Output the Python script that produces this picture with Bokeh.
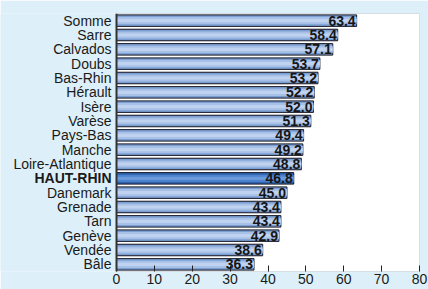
from bokeh.plotting import figure
from bokeh.models import (ColumnDataSource, FactorRange, Range1d, LabelSet, FixedTicker,
                          BoxAnnotation, Span)
from bokeh.core.properties import value
from bokeh.embed import file_html
from bokeh.resources import INLINE

categories = ["Somme", "Sarre", "Calvados", "Doubs", "Bas-Rhin", "Hérault", "Isère",
              "Varèse", "Pays-Bas", "Manche", "Loire-Atlantique", "HAUT-RHIN",
              "Danemark", "Grenade", "Tarn", "Genève", "Vendée", "Bâle"]
values = [63.4, 58.4, 57.1, 53.7, 53.2, 52.2, 52.0, 51.3, 49.4, 49.2, 48.8, 46.8,
          45.0, 43.4, 43.4, 42.9, 38.6, 36.3]
value_labels = ["63.4", "58.4", "57.1", "53.7", "53.2", "52.2", "52.0", "51.3", "49.4",
                "49.2", "48.8", "46.8", "45.0", "43.4", "43.4", "42.9", "38.6", "36.3"]
highlight = "HAUT-RHIN"
x_ticks = [0, 10, 20, 30, 40, 50, 60, 70, 80]
x_min, x_max = 0, 80

BG = "#ddf0f9"
base = ["#2d62ae" if c == highlight else "#7c9fd3" for c in categories]
mid = ["#4c82cc" if c == highlight else "#a6c0e7" for c in categories]
light = ["#6a9ad9" if c == highlight else "#bfd2ef" for c in categories]

src = ColumnDataSource(dict(cat=categories, val=values, lab=value_labels,
                            base=base, mid=mid, light=light,
                            zero=[0] * len(values)))
normal_cats = [c for c in categories if c != highlight]
src_normal = ColumnDataSource(dict(cat=normal_cats, zero=[0] * len(normal_cats)))
src_bold = ColumnDataSource(dict(cat=[highlight], zero=[0]))

W, H = 428, 289
LEFT_PAD, RIGHT_PAD = 116, 9
frame_w = W - RIGHT_PAD
# extend the range to the left so the category names sit inside the frame
x_start = x_min - (x_max - x_min) * LEFT_PAD / (frame_w - LEFT_PAD)

factors = list(reversed(categories))
p = figure(width=W, height=H, output_backend="svg", toolbar_location=None,
           y_range=FactorRange(factors=factors, range_padding=0),
           x_range=Range1d(x_start, x_max))
p.min_border_left = 0
p.min_border_right = RIGHT_PAD
p.min_border_top = 13
p.min_border_bottom = 18
p.border_fill_color = BG
p.background_fill_color = BG
p.outline_line_color = None
p.grid.visible = False
p.yaxis.visible = False

p.add_layout(BoxAnnotation(left=x_min, right=x_max, fill_color="white", fill_alpha=1,
                           line_color="#555555", line_width=1, level="underlay"))

# shadow
p.hbar(y="cat", left="zero", right="val", height=0.86, source=src,
       fill_color="#9a9a9a", fill_alpha=0.5, line_color=None)
p.hbar(y="cat", left="zero", right="val", height=0.8, source=src,
       fill_color="base", line_color="#1c1c28", line_width=1)
p.hbar(y="cat", left="zero", right="val", height=0.5, source=src,
       fill_color="mid", line_color=None)
p.hbar(y="cat", left="zero", right="val", height=0.22, source=src,
       fill_color="light", line_color=None)

p.add_layout(Span(location=x_min, dimension="height", line_color="#333333", line_width=2))

vals = LabelSet(x="val", y="cat", text="lab", source=src, x_offset=-1,
                text_align="right", text_baseline="middle",
                text_font=value("Liberation Sans"),
                text_font_size=value("14px"), text_font_style=value("bold"),
                text_color=value("#161616"))
p.add_layout(vals)

for s, st in ((src_normal, "normal"), (src_bold, "bold")):
    p.add_layout(LabelSet(x="zero", y="cat", text="cat", source=s, x_offset=-5,
                          text_align="right", text_baseline="middle",
                          text_font=value("Liberation Sans"),
                          text_font_size=value("14px"), text_font_style=value(st),
                          text_color=value("#1a1a1a")))

p.xaxis.ticker = FixedTicker(ticks=x_ticks)
p.xaxis.major_tick_in = 6
p.xaxis.major_tick_out = 0
p.xaxis.minor_tick_line_color = None
p.xaxis.major_tick_line_color = "#222222"
p.xaxis.axis_line_color = None
p.xaxis.major_label_standoff = 2
p.xaxis.major_label_text_font = "Liberation Sans"
p.xaxis.major_label_text_font_size = "14px"
p.xaxis.major_label_text_color = "#1a1a1a"

html = file_html(p, INLINE)
html = html.replace("<body>", "<body style=\"background:%s\">" % BG, 1)
open("out.html", "w").write(html)
